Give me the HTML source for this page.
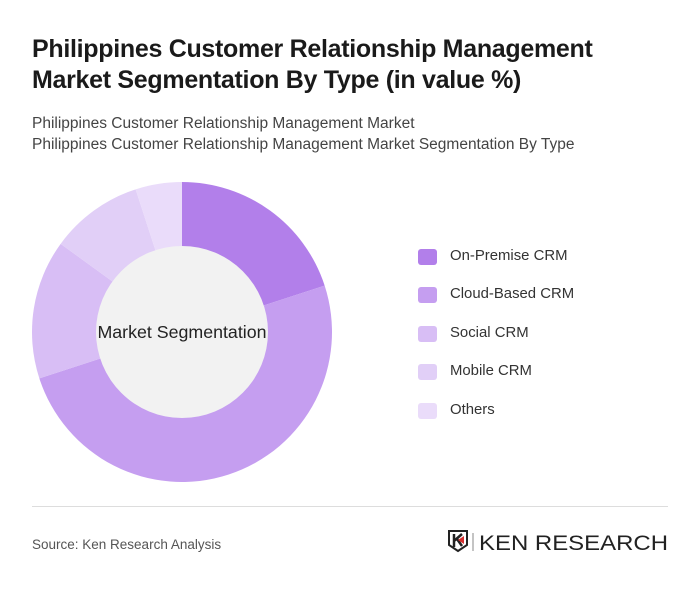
<!DOCTYPE html>
<html><head><meta charset="utf-8"><style>
body{margin:0;background:#fff;}
.c{position:relative;width:700px;height:591px;font-family:"Liberation Sans",sans-serif;background:#fff;overflow:hidden}
h1{position:absolute;left:32px;top:34px;margin:0;font-size:25px;line-height:31px;font-weight:bold;color:#1a1a1a;letter-spacing:-0.3px}
.sub{position:absolute;left:32px;top:113px;font-size:15.5px;line-height:21px;color:#444}
.leg{position:absolute;left:418px;font-size:14.9px;color:#333}
.leg i{position:absolute;left:0;top:0;width:19px;height:16px;border-radius:3px}
.leg span{position:absolute;left:32px;top:-1px;white-space:nowrap}
.hr{position:absolute;left:32px;right:32px;top:506px;border-top:1px solid #ddd}
.src{position:absolute;left:32px;top:537px;font-size:13.5px;color:#555}
</style></head><body><div class="c">
<h1>Philippines Customer Relationship Management<br>Market Segmentation By Type (in value %)</h1>
<div class="sub">Philippines Customer Relationship Management Market<br>Philippines Customer Relationship Management Market Segmentation By Type</div>
<svg width="700" height="591" style="position:absolute;left:0;top:0">
<path d="M182,332 L182,182 A150,150 0 0 1 324.66,285.65 Z" fill="#b27fea"/>
<path d="M182,332 L324.66,285.65 A150,150 0 1 1 39.34,378.35 Z" fill="#c59ef0"/>
<path d="M182,332 L39.34,378.35 A150,150 0 0 1 60.65,243.83 Z" fill="#d8bef5"/>
<path d="M182,332 L60.65,243.83 A150,150 0 0 1 135.65,189.33 Z" fill="#e1cff7"/>
<path d="M182,332 L135.65,189.33 A150,150 0 0 1 182,182 Z" fill="#eadcfa"/>
<circle cx="182" cy="332" r="86" fill="#f2f2f2"/>
<text x="182" y="338" text-anchor="middle" font-family="Liberation Sans" font-size="17.8" fill="#222">Market Segmentation</text>
<g transform="translate(449,531)">
<path d="M0,0 H18 V14 L9,20 L0,14 Z" fill="none" stroke="#222" stroke-width="2"/>
<path d="M5,3 V16 M5,10 L13,3 M8,8 L13,15" stroke="#222" stroke-width="2.5" fill="none"/>
<path d="M9,9 L15,5 L15,13 Z" fill="#d62f2f"/>
<line x1="24" y1="2" x2="24" y2="20" stroke="#888" stroke-width="1"/>
<text x="30" y="19" font-family="Liberation Sans" font-size="21" fill="#222" textLength="189" lengthAdjust="spacingAndGlyphs">KEN RESEARCH</text>
</g>
</svg>
<div class="leg" style="top:249px"><i style="background:#b27fea"></i><span>On-Premise CRM</span></div>
<div class="leg" style="top:287px"><i style="background:#c59ef0"></i><span>Cloud-Based CRM</span></div>
<div class="leg" style="top:326px"><i style="background:#d8bef5"></i><span>Social CRM</span></div>
<div class="leg" style="top:364px"><i style="background:#e1cff7"></i><span>Mobile CRM</span></div>
<div class="leg" style="top:403px"><i style="background:#eadcfa"></i><span>Others</span></div>
<div class="hr"></div>
<div class="src">Source: Ken Research Analysis</div>
</div></body></html>
